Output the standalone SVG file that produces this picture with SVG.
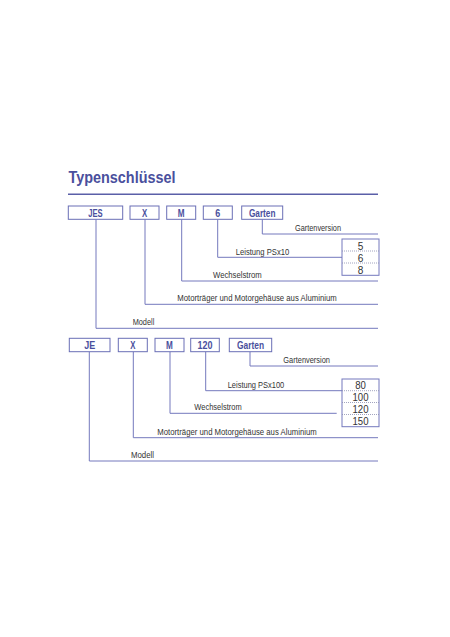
<svg xmlns="http://www.w3.org/2000/svg" width="450" height="637" viewBox="0 0 450 637">
<style>
.title{font-family:"Liberation Sans",Arial,sans-serif;font-weight:bold;font-size:16px;fill:#4a4f9d}
.box{fill:#fff;stroke:#6a6fb6;stroke-width:1}
.bl{font-family:"Liberation Sans Narrow","Liberation Sans",Arial,sans-serif;font-weight:bold;font-size:10px;fill:#4a4f9d;text-anchor:middle}
.lb{font-family:"Liberation Sans Narrow","Liberation Sans",Arial,sans-serif;font-size:9.3px;fill:#333}
.val{font-family:"Liberation Sans Narrow","Liberation Sans",Arial,sans-serif;font-size:11px;fill:#333;text-anchor:middle}
.con{fill:none;stroke:#7479bd;stroke-width:1}
.vbox{fill:#fff;stroke:#7479bd;stroke-width:1}
.div{stroke:#8a8db0;stroke-width:0.8;stroke-dasharray:1 1}
</style>
<rect width="450" height="637" fill="#fff"/>
<text class="title" x="68.5" y="183.3" textLength="107" lengthAdjust="spacingAndGlyphs">Typenschlüssel</text>
<line x1="68" y1="194.3" x2="378" y2="194.3" stroke="#5a5fa8" stroke-width="1.4"/>

<g id="connectors">
<path class="con" d="M96,219.3V328.3H378"/>
<path class="con" d="M145,219.3V304.3H378"/>
<path class="con" d="M181.7,219.3V281H378"/>
<path class="con" d="M217.7,219.3V257.3H342"/>
<path class="con" d="M262.3,219.3V234H378"/>
<path class="con" d="M89.3,351.7V461H378"/>
<path class="con" d="M133.3,351.7V437.7H378"/>
<path class="con" d="M170,351.7V413.3H336.7"/>
<path class="con" d="M205.7,351.7V390.7H342"/>
<path class="con" d="M250,351.7V366H378"/>
</g>

<g id="r1-jes"><rect class="box" x="68.3" y="206" width="54.4" height="13.3"/><text class="bl" x="95.5" y="216.8" textLength="14.4" lengthAdjust="spacingAndGlyphs">JES</text></g>
<g id="r1-x"><rect class="box" x="130" y="206" width="29" height="13.3"/><text class="bl" x="144.5" y="216.8" textLength="5.2" lengthAdjust="spacingAndGlyphs">X</text></g>
<g id="r1-m"><rect class="box" x="166.7" y="206" width="29" height="13.3"/><text class="bl" x="181.2" y="216.8" textLength="6.8" lengthAdjust="spacingAndGlyphs">M</text></g>
<g id="r1-6"><rect class="box" x="203.3" y="206" width="29" height="13.3"/><text class="bl" x="217.8" y="216.8" textLength="5" lengthAdjust="spacingAndGlyphs">6</text></g>
<g id="r1-garten"><rect class="box" x="241.7" y="206" width="41" height="13.3"/><text class="bl" x="262.2" y="216.8" textLength="26.6" lengthAdjust="spacingAndGlyphs">Garten</text></g>

<g id="r1-labels">
<text class="lb" x="295" y="230.5" textLength="46" lengthAdjust="spacingAndGlyphs">Gartenversion</text>
<text class="lb" x="235.7" y="254.5" textLength="53.6" lengthAdjust="spacingAndGlyphs">Leistung PSx10</text>
<text class="lb" x="213" y="278" textLength="48.7" lengthAdjust="spacingAndGlyphs">Wechselstrom</text>
<text class="lb" x="177.3" y="301.3" textLength="159.4" lengthAdjust="spacingAndGlyphs">Motorträger und Motorgehäuse aus Aluminium</text>
<text class="lb" x="132.7" y="325.3" textLength="21.6" lengthAdjust="spacingAndGlyphs">Modell</text>
</g>

<g id="r1-values">
<rect class="vbox" x="342" y="239" width="37" height="36.3"/>
<line class="div" x1="342" y1="251" x2="379" y2="251"/>
<line class="div" x1="342" y1="263" x2="379" y2="263"/>
<text class="val" x="360.5" y="249.5" textLength="5.6" lengthAdjust="spacingAndGlyphs">5</text>
<text class="val" x="360.5" y="261.5" textLength="5.6" lengthAdjust="spacingAndGlyphs">6</text>
<text class="val" x="360.5" y="273.5" textLength="5.6" lengthAdjust="spacingAndGlyphs">8</text>
</g>

<g id="r2-je"><rect class="box" x="69.3" y="338.3" width="40.7" height="13.4"/><text class="bl" x="89.7" y="349" textLength="11" lengthAdjust="spacingAndGlyphs">JE</text></g>
<g id="r2-x"><rect class="box" x="118.3" y="338.3" width="29" height="13.4"/><text class="bl" x="132.8" y="349" textLength="5.2" lengthAdjust="spacingAndGlyphs">X</text></g>
<g id="r2-m"><rect class="box" x="155" y="338.3" width="29" height="13.4"/><text class="bl" x="169.5" y="349" textLength="6.8" lengthAdjust="spacingAndGlyphs">M</text></g>
<g id="r2-120"><rect class="box" x="190.7" y="338.3" width="28.6" height="13.4"/><text class="bl" x="205" y="349" textLength="15" lengthAdjust="spacingAndGlyphs">120</text></g>
<g id="r2-garten"><rect class="box" x="229.3" y="338.3" width="42.4" height="13.4"/><text class="bl" x="250.5" y="349" textLength="27" lengthAdjust="spacingAndGlyphs">Garten</text></g>

<g id="r2-labels">
<text class="lb" x="283.3" y="362.5" textLength="46.7" lengthAdjust="spacingAndGlyphs">Gartenversion</text>
<text class="lb" x="227.7" y="387.5" textLength="56.6" lengthAdjust="spacingAndGlyphs">Leistung PSx100</text>
<text class="lb" x="194.3" y="410.3" textLength="47.4" lengthAdjust="spacingAndGlyphs">Wechselstrom</text>
<text class="lb" x="157.3" y="434.7" textLength="159.4" lengthAdjust="spacingAndGlyphs">Motorträger und Motorgehäuse aus Aluminium</text>
<text class="lb" x="131" y="458" textLength="23" lengthAdjust="spacingAndGlyphs">Modell</text>
</g>

<g id="r2-values">
<rect class="vbox" x="342" y="379" width="37" height="47.7"/>
<line class="div" x1="342" y1="390.7" x2="379" y2="390.7"/>
<line class="div" x1="342" y1="402.5" x2="379" y2="402.5"/>
<line class="div" x1="342" y1="414.5" x2="379" y2="414.5"/>
<text class="val" x="360.5" y="389.3" textLength="10.7" lengthAdjust="spacingAndGlyphs">80</text>
<text class="val" x="360.5" y="401.2" textLength="16" lengthAdjust="spacingAndGlyphs">100</text>
<text class="val" x="360.5" y="413.2" textLength="16" lengthAdjust="spacingAndGlyphs">120</text>
<text class="val" x="360.5" y="425.2" textLength="16" lengthAdjust="spacingAndGlyphs">150</text>
</g>
</svg>
